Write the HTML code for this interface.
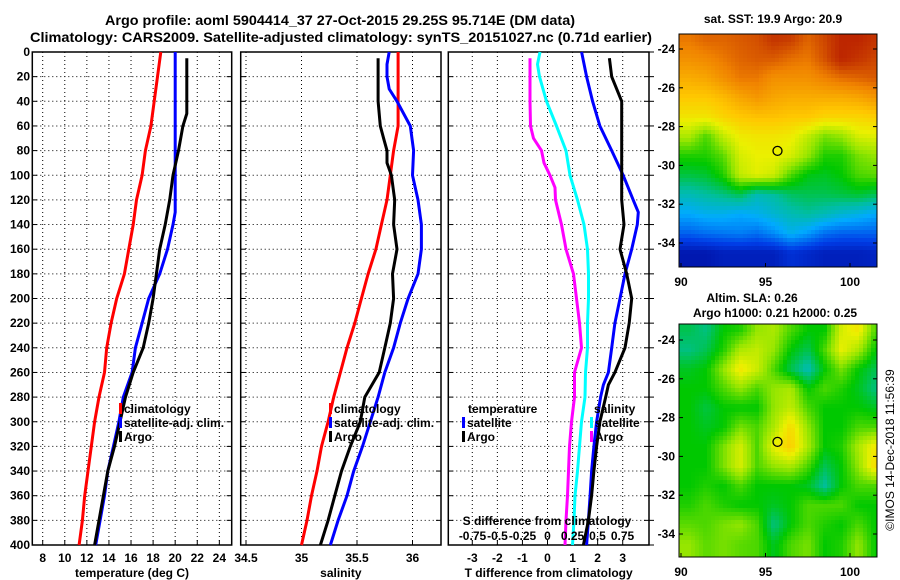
<!DOCTYPE html>
<html><head><meta charset="utf-8"><style>
body{margin:0;background:#fff}
svg{display:block;font-family:"Liberation Sans",sans-serif;font-weight:bold}
</style></head><body>
<svg id="fig" width="900" height="580" viewBox="0 0 900 580" xmlns="http://www.w3.org/2000/svg">
<text x="340" y="25" font-size="14" text-anchor="middle" textLength="470" lengthAdjust="spacingAndGlyphs">Argo profile: aoml 5904414_37 27-Oct-2015 29.25S 95.714E (DM data)</text>
<text x="341" y="42" font-size="14" text-anchor="middle" textLength="622" lengthAdjust="spacingAndGlyphs">Climatology: CARS2009. Satellite-adjusted climatology: synTS_20151027.nc (0.71d earlier)</text>
<g id="g"></g>
</svg>
<script>
// depth levels
const depthTicks=[0,20,40,60,80,100,120,140,160,180,200,220,240,260,280,300,320,340,360,380,400];
const dStd=[0,20,40,60,80,100,120,140,160,180,200,220,240,260,280,300,320,340,360,380,400];
// temperature panel
const tempTicks=[8,10,12,14,16,18,20,22,24];
const tClim=[18.7,18.4,18.1,17.8,17.3,17.0,16.5,16.2,15.8,15.4,14.7,14.2,13.8,13.6,13.1,12.7,12.4,12.1,11.8,11.6,11.3];
const dSatT=[0,20,40,60,80,100,120,130,140,160,180,200,220,240,260,280,300,320,340,360,380,400];
const tSat=[20.0,20.0,20.0,20.0,20.0,20.0,20.0,20.0,19.8,19.3,18.6,17.6,17.0,16.4,16.1,15.3,14.9,14.4,13.9,13.6,13.2,12.8];
const dArgo=[5,20,40,50,60,80,100,120,140,160,180,200,220,240,260,280,300,320,340,360,380,400];
const tArgo=[21.05,21.05,21.05,21.05,20.7,20.3,19.8,19.5,19.1,18.6,18.3,18.0,17.6,17.1,16.2,15.5,15.0,14.5,13.9,13.5,13.1,12.7];
// salinity panel
const salTicks=[34.5,35,35.5,36];
const sClim=[35.87,35.87,35.87,35.87,35.83,35.80,35.77,35.72,35.67,35.60,35.54,35.48,35.41,35.35,35.29,35.24,35.18,35.14,35.09,35.05,35.0];
const dSatS=[0,10,20,30,40,60,80,100,120,140,160,180,200,220,240,260,280,300,320,340,360,380,400];
const sSat=[35.79,35.77,35.77,35.79,35.86,35.98,36.01,36.0,36.05,36.08,36.08,36.05,35.96,35.89,35.83,35.75,35.69,35.62,35.55,35.47,35.41,35.33,35.26];
const dArgoS=[5,20,40,60,70,80,90,100,120,140,160,180,200,220,240,260,280,300,320,340,360,380,400];
const sArgo=[35.69,35.69,35.69,35.71,35.74,35.77,35.77,35.81,35.84,35.83,35.86,35.82,35.83,35.80,35.75,35.70,35.57,35.53,35.44,35.36,35.30,35.24,35.17];
// difference panel
const tDiffTicks=[-3,-2,-1,0,1,2,3];
const sDiffTicks=["-0.75","-0.5","-0.25","0","0.25","0.5","0.75"];
const dTdSat=[0,20,40,60,80,100,120,130,140,160,180,200,220,240,260,270,280,300,320,340,360,380,400];
const tdSat=[1.36,1.56,1.80,2.09,2.56,3.02,3.42,3.62,3.58,3.36,3.09,2.89,2.69,2.56,2.43,2.23,2.12,1.96,1.85,1.76,1.70,1.63,1.56];
const dTdArgo=[5,20,40,60,80,100,120,140,160,180,200,220,240,260,270,280,300,320,340,360,380,400];
const tdArgo=[2.47,2.56,2.96,2.96,2.96,2.96,2.96,3.05,2.89,3.16,3.36,3.26,3.09,2.69,2.43,2.32,2.09,1.96,1.85,1.76,1.63,1.43];
const dSdArgo=[5,20,40,60,70,80,90,100,110,120,140,160,180,200,220,240,260,280,300,320,340,360,380,400];
const sdArgo=[-0.175,-0.175,-0.175,-0.17,-0.14,-0.06,-0.035,0.025,0.075,0.08,0.14,0.185,0.26,0.29,0.32,0.34,0.27,0.27,0.24,0.22,0.21,0.20,0.185,0.175];
const dSdSat=[0,10,20,40,60,80,100,120,140,160,180,200,220,240,260,280,300,320,340,360,380,400];
const sdSat=[-0.075,-0.1,-0.08,-0.01,0.09,0.185,0.225,0.30,0.365,0.40,0.41,0.41,0.40,0.40,0.38,0.375,0.34,0.32,0.30,0.275,0.265,0.25];
// maps (colormap fraction, rows = lat -23.5..-34.5, cols = lon 90.5..101.5)
const sstGrid=[
[.86,.88,.88,.89,.9,.93,.92,.88,.91,.95,.95,.93],
[.83,.84,.86,.88,.89,.89,.87,.86,.9,.95,.93,.91],
[.79,.8,.83,.86,.86,.83,.83,.83,.85,.87,.88,.89],
[.75,.75,.77,.8,.82,.8,.79,.79,.79,.79,.8,.82],
[.7,.7,.73,.75,.76,.76,.75,.75,.73,.73,.73,.74],
[.62,.55,.64,.69,.7,.7,.69,.64,.58,.6,.66,.67],
[.52,.52,.56,.66,.68,.68,.66,.6,.52,.52,.58,.6],
[.46,.47,.52,.64,.67,.65,.55,.49,.48,.5,.55,.56],
[.38,.4,.42,.45,.38,.4,.44,.45,.45,.46,.47,.45],
[.3,.32,.32,.3,.32,.35,.38,.4,.38,.35,.33,.3],
[.2,.22,.23,.24,.22,.26,.32,.28,.22,.2,.2,.2],
[.06,.06,.08,.08,.08,.08,.12,.1,.08,.08,.08,.09]];
const slaGrid=[
[.45,.42,.5,.52,.6,.62,.55,.5,.5,.66,.7,.55],
[.42,.45,.52,.62,.64,.6,.5,.45,.55,.68,.62,.5],
[.48,.5,.6,.7,.65,.55,.45,.38,.5,.58,.5,.45],
[.5,.5,.55,.6,.55,.6,.62,.5,.55,.52,.48,.42],
[.5,.46,.5,.5,.5,.6,.64,.55,.5,.5,.5,.48],
[.5,.48,.5,.58,.55,.62,.72,.6,.5,.5,.55,.55],
[.5,.5,.58,.66,.55,.68,.74,.62,.5,.52,.62,.7],
[.5,.5,.58,.66,.55,.6,.62,.55,.45,.5,.6,.72],
[.5,.52,.5,.55,.5,.5,.5,.48,.4,.5,.55,.55],
[.52,.55,.52,.5,.5,.48,.5,.55,.55,.55,.5,.5],
[.56,.55,.58,.6,.55,.42,.5,.55,.52,.5,.55,.5],
[.6,.56,.58,.56,.55,.48,.55,.58,.5,.52,.6,.5]];
const mapLonTicks=[90,95,100];
const mapLatTicks=[-24,-26,-28,-30,-32,-34];

const NS='http://www.w3.org/2000/svg';
const G=document.getElementById('g');
function mk(tag,attrs,parent){const e=document.createElementNS(NS,tag);for(const k in attrs)e.setAttribute(k,attrs[k]);(parent||G).appendChild(e);return e;}
const Y0=52,Y1=545;
const yD=d=>Y0+(Y1-Y0)*d/400;

function panel(name,x0,x1,xs,ticks,labels,xlabel){
  const g=mk('g',{});
  
  
  ticks.forEach(t=>{const l=mk('line',{x1:xs(t),x2:xs(t),y1:Y0,y2:Y1,stroke:'#000','stroke-width':1,'stroke-dasharray':'1 3'},g);});
  depthTicks.forEach(d=>{const l=mk('line',{x1:x0,x2:x1,y1:yD(d),y2:yD(d),stroke:'#000','stroke-width':1,'stroke-dasharray':'1 3'},g);
    mk('line',{x1:x0,x2:x0+5,y1:yD(d),y2:yD(d),stroke:'#000'},g);mk('line',{x1:x1-5,x2:x1,y1:yD(d),y2:yD(d),stroke:'#000'},g);});
  const r=mk('rect',{x:x0,y:Y0,width:x1-x0,height:Y1-Y0,fill:'none',stroke:'#000','stroke-width':1.5},g);
  
  if(labels){ticks.forEach((t,i)=>{const tx=mk('text',{x:xs(t),y:562,'font-size':12,'text-anchor':'middle'},g);tx.textContent=labels[i];
    
    mk('line',{x1:xs(t),x2:xs(t),y1:Y1,y2:Y1-5,stroke:'#000'},g);});}
  const xl=mk('text',{x:(x0+x1)/2,y:577,'font-size':12,'text-anchor':'middle'},g);xl.textContent=xlabel;
  
  return g;
}
function line(name,xs,vals,depths,color){
  const p=mk('polyline',{points:vals.map((v,i)=>xs(v).toFixed(1)+','+yD(depths[i]).toFixed(1)).join(' '),fill:'none',stroke:color,'stroke-width':3,'stroke-linejoin':'miter'});
  
  
}
function txt(name,x,y,s,size,anchor){const t=mk('text',{x:x,y:y,'font-size':size||12,'text-anchor':anchor||'start'});t.textContent=s;
  
  return t;}
function legItem(x,y,color,label){const r=mk('rect',{x:x,y:y-10,width:3,height:11,fill:color});
  
  
  txt('legend-label',x+5,y,label,12);}

depthTicks.forEach(d=>txt('y-tick-label',30,yD(d)+4,String(d),12,'end'));

const xT=t=>42.7+(t-8)*11.04;
panel('temperature-panel',32.3,231.7,xT,tempTicks,tempTicks.map(String),'temperature (deg C)');
line('temp-climatology-line',xT,tClim,dStd,'#ff0000');
line('temp-satellite-line',xT,tSat,dSatT,'#0000ff');
line('temp-argo-line',xT,tArgo,dArgo,'#000000');
legItem(119,413,'#ff0000','climatology');
legItem(119,427,'#0000ff','satellite-adj. clim.');
legItem(119,441,'#000000','Argo');

const xS=s=>246+(s-34.5)*111;
panel('salinity-panel',240.7,441,xS,salTicks,['34.5','35','35.5','36'],'salinity');
line('sal-climatology-line',xS,sClim,dStd,'#ff0000');
line('sal-satellite-line',xS,sSat,dSatS,'#0000ff');
line('sal-argo-line',xS,sArgo,dArgoS,'#000000');
legItem(329,413,'#ff0000','climatology');
legItem(329,427,'#0000ff','satellite-adj. clim.');
legItem(329,441,'#000000','Argo');

const xTd=t=>547.5+t*25.07;
const xSd=s=>547.5+s*100;
panel('difference-panel',448.3,649,xTd,tDiffTicks,tDiffTicks.map(String),'T difference from climatology');
line('sdiff-argo-line',xSd,sdArgo,dSdArgo,'#ff00ff');
line('sdiff-satellite-line',xSd,sdSat,dSdSat,'#00ffff');
line('tdiff-satellite-line',xTd,tdSat,dTdSat,'#0000ff');
line('tdiff-argo-line',xTd,tdArgo,dTdArgo,'#000000');
txt('legend-title-temperature',468,413,'temperature',12);
legItem(462,427,'#0000ff','satellite');
legItem(462,441,'#000000','Argo');
txt('legend-title-salinity',594,413,'salinity',12);
legItem(590,427,'#00ffff','satellite');
legItem(590,441,'#ff00ff','Argo');
txt('s-diff-axis-title',547,525,'S difference from climatology',12,'middle');
sDiffTicks.forEach(s=>txt('s-diff-tick-label',xSd(parseFloat(s)),540,s,12,'middle'));
depthTicks.forEach(d=>mk('line',{x1:649,x2:654,y1:yD(d),y2:yD(d),stroke:'#000'}));

const cmStops=[[0,0,0,140],[.15,0,60,230],[.3,0,170,255],[.4,0,190,160],[.5,0,200,0],[.6,150,230,0],[.68,235,240,0],[.75,255,200,0],[.85,240,130,0],[.92,200,60,0],[1,170,0,0]];
function cmap(v){v=Math.max(0,Math.min(1,v));
  for(let i=1;i<cmStops.length;i++){if(v<=cmStops[i][0]){const a=cmStops[i-1],b=cmStops[i],f=(v-a[0])/(b[0]-a[0]);
    return 'rgb('+[1,2,3].map(k=>Math.round(a[k]+(b[k]-a[k])*f)).join(',')+')';}}
  return 'rgb(170,0,0)';}
function interp(grid,fr,fc){const R=grid.length-1,C=grid[0].length-1;
  const r=Math.max(0,Math.min(R,fr)),c=Math.max(0,Math.min(C,fc));const r0=Math.floor(r),c0=Math.floor(c),r1=Math.min(R,r0+1),c1=Math.min(C,c0+1);const a=r-r0,b=c-c0;
  return grid[r0][c0]*(1-a)*(1-b)+grid[r0][c1]*(1-a)*b+grid[r1][c0]*a*(1-b)+grid[r1][c1]*a*b;}
function map(name,grid,x0,y0,x1,y1,latY,lonX){
  const g=mk('g',{});
  
  
  const cell=4;
  for(let y=y0;y<y1;y+=cell){for(let x=x0;x<x1;x+=cell){
    const lon=90+(x+cell/2-lonX(90))/(lonX(95)-lonX(90))*5;
    const lat=-24+(y+cell/2-latY(-24))/(latY(-26)-latY(-24))*(-2);
    const v=interp(grid,(-23.5-lat),(lon-90.5));
    mk('rect',{x:x,y:y,width:Math.min(cell,x1-x)+0.3,height:Math.min(cell,y1-y)+0.3,fill:cmap(v)},g);}}
  const fr=mk('rect',{x:x0,y:y0,width:x1-x0,height:y1-y0,fill:'none',stroke:'#000','stroke-width':1},g);
  
  mapLatTicks.forEach(l=>{txt('map-lat-label',675,latY(l)+4,String(l),12,'end');
    mk('line',{x1:x0,x2:x0+4,y1:latY(l),y2:latY(l),stroke:'#000'},g);mk('line',{x1:x1-4,x2:x1,y1:latY(l),y2:latY(l),stroke:'#000'},g);});
  mapLonTicks.forEach(l=>{txt('map-lon-label',lonX(l),y1+19,String(l),12,'middle');mk('line',{x1:lonX(l),x2:lonX(l),y1:y1,y2:y1-4,stroke:'#000'},g);});
  const c=mk('circle',{cx:lonX(95.71),cy:latY(-29.25),r:4.5,fill:'none',stroke:'#000','stroke-width':1.3},g);
  
}
const lonXm=l=>681+(l-90)*16.9;
map('sst-map',sstGrid,679,34,877,267,l=>49+(-24-l)*19.4,lonXm);
txt('sst-map-title',773,23,'sat. SST: 19.9 Argo: 20.9',12,'middle');
map('sla-map',slaGrid,679,324,877,557,l=>340+(-24-l)*19.4,lonXm);
txt('sla-map-title-1',752,302,'Altim. SLA: 0.26',12,'middle');
txt('sla-map-title-2',775,317,'Argo h1000: 0.21 h2000: 0.25',12,'middle');
const ts=mk('text',{x:0,y:0,'font-size':12,'font-weight':'normal','text-anchor':'middle',transform:'translate(894,450) rotate(-90)'});
ts.textContent='©IMOS 14-Dec-2018 11:56:39';


</script>
</body></html>
